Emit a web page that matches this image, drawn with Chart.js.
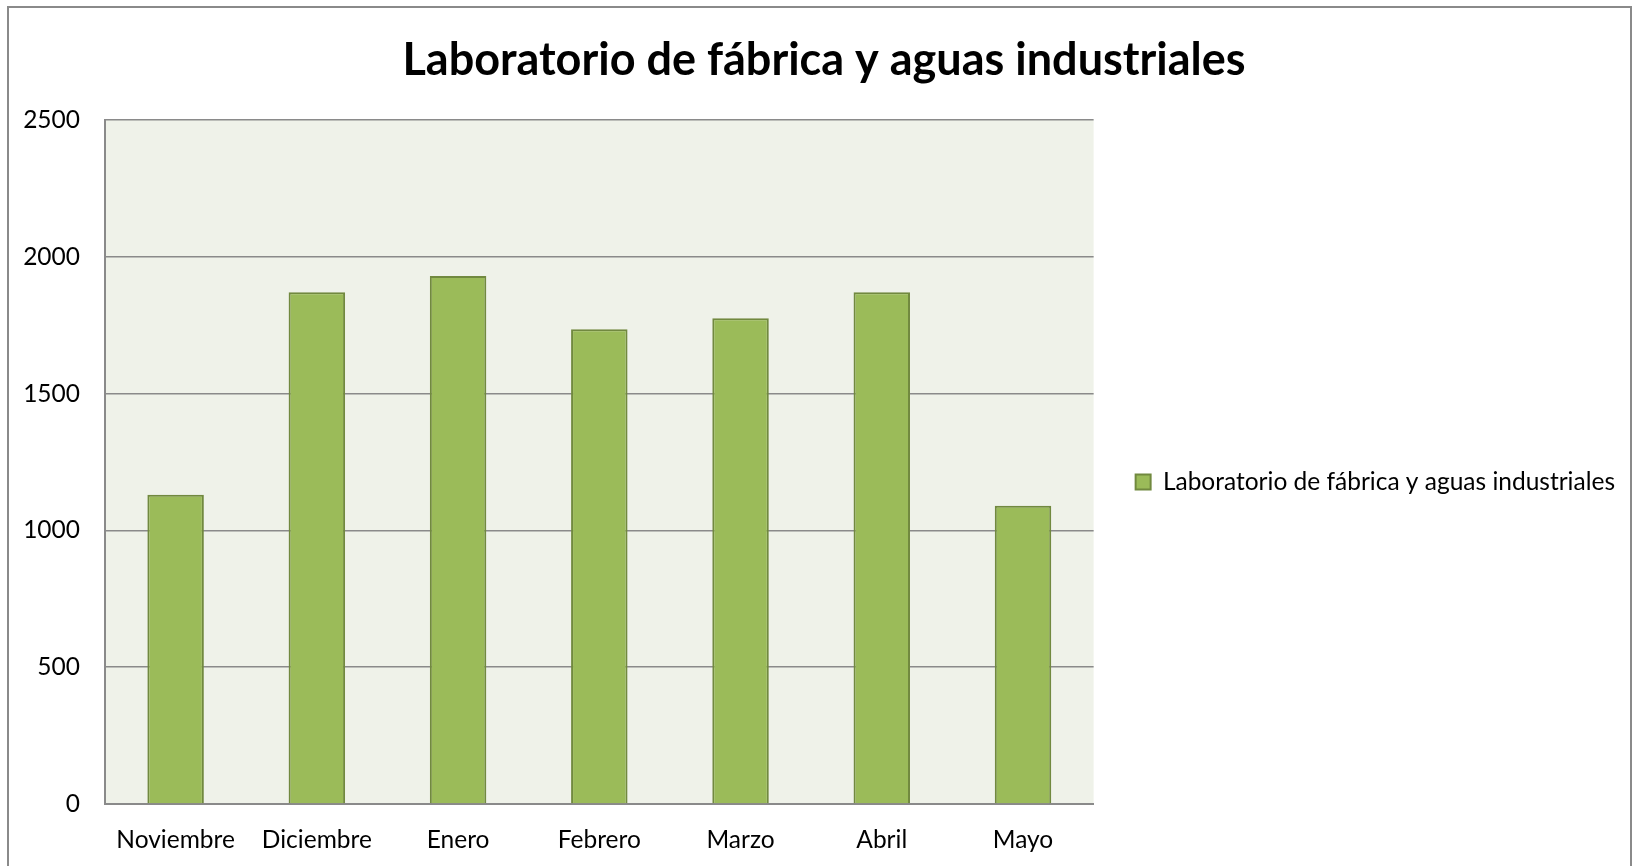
<!DOCTYPE html>
<html>
<head>
<meta charset="utf-8">
<script src="https://cdn.jsdelivr.net/npm/chart.js@4"></script>
<style>
  body { margin: 0; background: #fff; }
  #wrap { position: relative; width: 1634px; height: 866px; overflow: hidden; }
  #frame { position: absolute; left: 7px; top: 6px; width: 1621px; height: 900px; border: 2px solid #8a8a8a; }
  canvas { position: absolute; left: 0; top: 0; }
</style>
</head>
<body>
<div id="wrap">
  <div id="frame"></div>
  <canvas id="chart" width="1634" height="866"></canvas>
</div>
<script>
const titleText = "Laboratorio de fábrica y aguas industriales";
const months = ["Noviembre", "Diciembre", "Enero", "Febrero", "Marzo", "Abril", "Mayo"];
const values = [1130, 1870, 1930, 1735, 1775, 1870, 1090];
const yTicks = [0, 500, 1000, 1500, 2000, 2500];

const fontFamily = "Lato, 'Open Sans', sans-serif";
const gridGray = "#8a8a8a";

// light green fill behind the plot area
const plotBg = {
  id: "plotBg",
  beforeDraw(chart) {
    const { ctx, chartArea: a } = chart;
    ctx.save();
    ctx.fillStyle = "#eff2e9";
    ctx.fillRect(a.left, a.top, a.right - a.left, a.bottom - a.top);
    ctx.restore();
  }
};

const ctx = document.getElementById("chart").getContext("2d");
new Chart(ctx, {
  type: "bar",
  data: {
    labels: months,
    datasets: [{
      label: titleText,
      data: values,
      backgroundColor: "#9bbb59",
      borderColor: "#71893f",
      borderWidth: 2,
      categoryPercentage: 1,
      barPercentage: 0.4
    }]
  },
  options: {
    responsive: false,
    animation: false,
    layout: { padding: { left: 23, right: 9, top: 0, bottom: 0 } },
    plugins: {
      title: {
        display: true,
        text: titleText,
        color: "#000",
        font: { family: fontFamily, size: 45, weight: "bold" },
        padding: { top: 33, bottom: 33 }
      },
      legend: {
        position: "right",
        maxWidth: 542,
        title: { display: true, text: " ", font: { size: 10 }, padding: { top: 43, bottom: 43 } },
        labels: {
          color: "#000",
          font: { family: fontFamily, size: 24.5 },
          boxWidth: 15,
          boxHeight: 15,
          padding: 42
        }
      },
      tooltip: { enabled: false }
    },
    scales: {
      x: {
        grid: { display: false, drawTicks: false },
        border: { display: true, color: gridGray, width: 2 },
        ticks: { color: "#000", font: { family: fontFamily, size: 24.5 }, padding: 21, maxRotation: 0 },
        afterFit: s => { s.height = 62; }
      },
      y: {
        min: 0,
        max: 2500,
        afterBuildTicks: s => { s.ticks = yTicks.map(v => ({ value: v })); },
        grid: { color: gridGray, lineWidth: 1.5, drawTicks: false },
        border: { display: true, color: gridGray, width: 2 },
        ticks: { color: "#000", font: { family: fontFamily, size: 24.5 }, padding: 25, callback: v => String(v) },
        afterFit: s => { s.width = 82; }
      }
    }
  },
  plugins: [plotBg]
});
</script>
</body>
</html>
